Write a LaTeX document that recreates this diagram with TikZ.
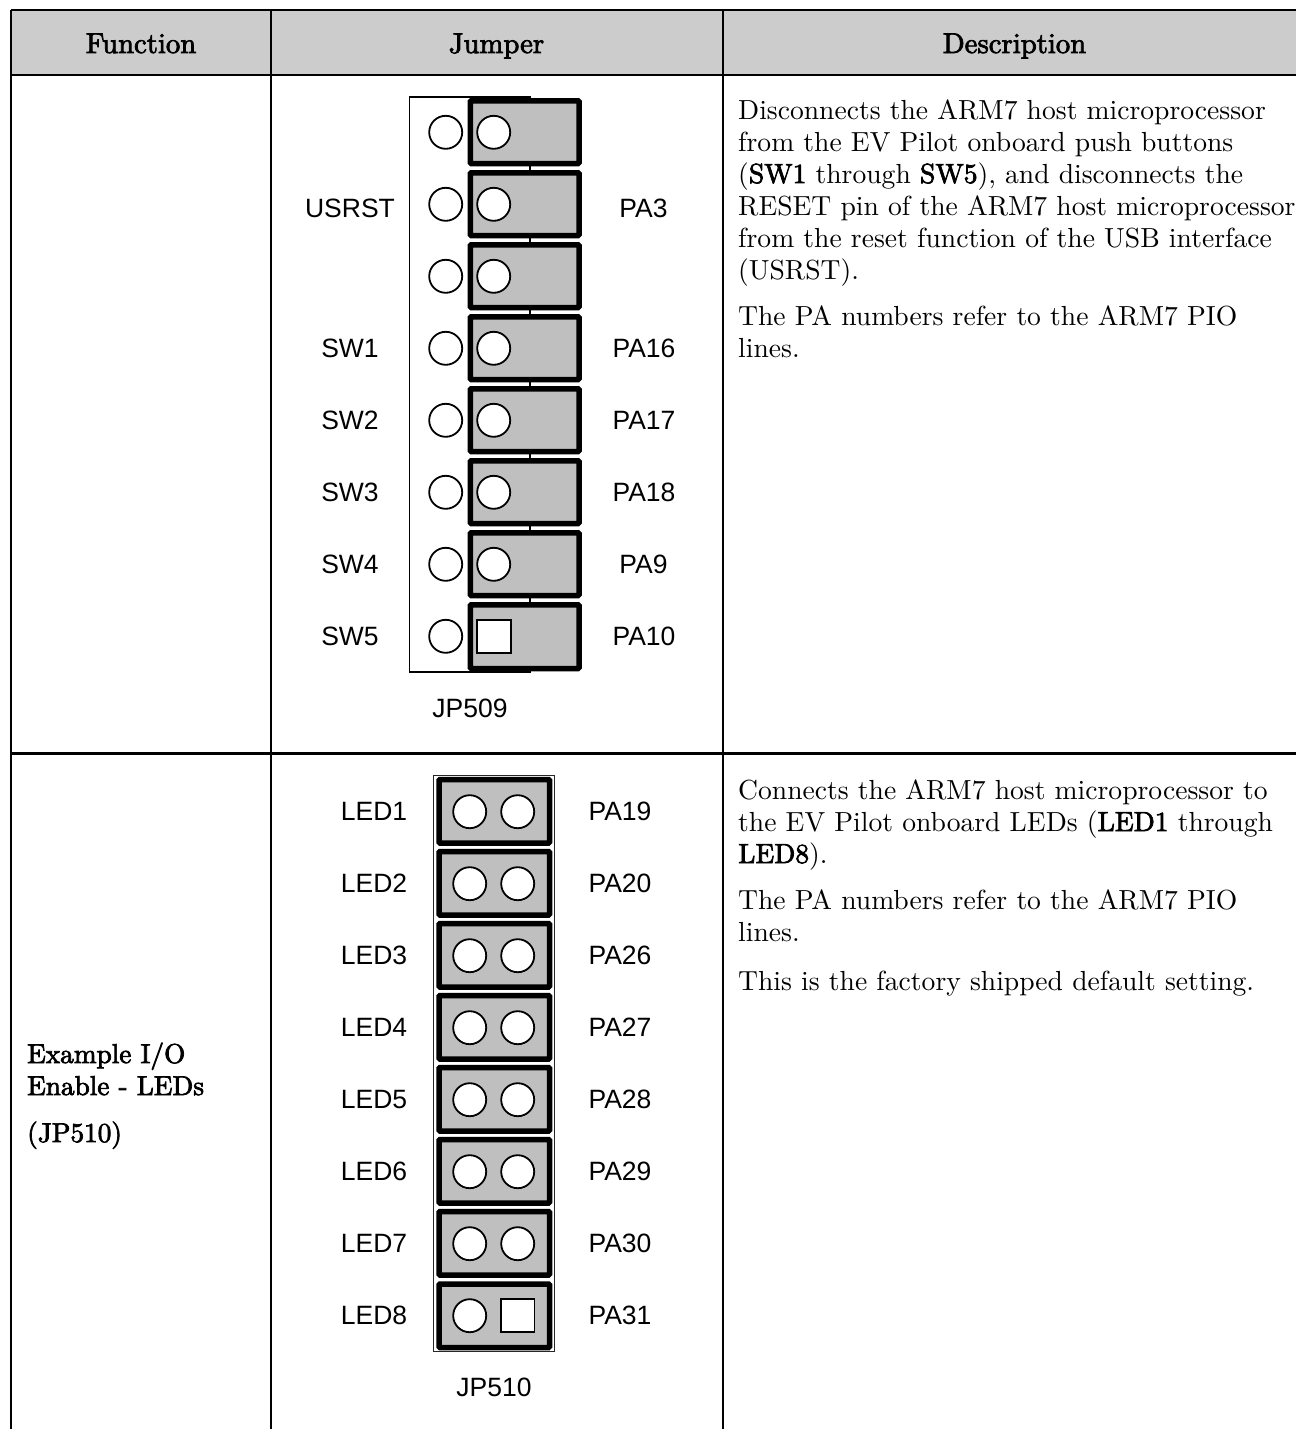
\documentclass[tikz,border=0pt]{standalone}
\usepackage{fontspec}
\setmainfont{Latin Modern Roman}[OpticalSize=10, BoldFont={Latin Modern Roman}, BoldFeatures={FakeBold=2.6}]
\newfontfamily\labelfont{Liberation Sans}
\def\jumperbox(#1,#2)(#3,#4){\draw[line width=5.5pt, rounded corners=1pt, fill=black!25] (#1, #2) rectangle (#3, #4);}
\def\jumperpin(#1,#2){\draw[pin] (#1, #2) circle (16.5);}
\def\jumpersq(#1,#2){\draw[pin] (#1-16.7, #2-16.5) rectangle (#1+16.7, #2+16.5);}
\tikzset{
	pin/.style={line width=1.8pt, fill=white},
	rule/.style={line width=2.2pt},
	partlabel/.style={font=\labelfont\fontsize{26.5}{32}\selectfont, inner sep=0pt},
	desc/.style={font=\fontsize{27.6}{32}\selectfont, anchor=base west, inner sep=0pt},
	funclabel/.style={font=\fontsize{27.3}{32}\selectfont\bfseries, anchor=base west, inner sep=0pt},
	headlabel/.style={font=\fontsize{28.7}{32}\selectfont\bfseries, anchor=base, inner sep=0pt}
}

\begin{document}
\begin{tikzpicture}[x=1pt, y=-1pt]
		%%%%% TABLE %%%%%
		\useasboundingbox (0, 0) rectangle (1296, 1429);
		\fill[black!20] (11, 10) rectangle (1296, 75);
		\draw[rule] (11, 10) -- (1296, 10);
		\draw[rule] (11, 75) -- (1296, 75);
		\draw[rule] (11, 753.5) -- (1296, 753.5);
		\draw[rule] (11, 10) -- (11, 1429);
		\draw[rule] (271, 10) -- (271, 1429);
		\draw[rule] (723, 10) -- (723, 1429);
		
		\node[headlabel] (headfunction) at (141, 53) {Function};
		\node[headlabel] (headjumper) at (496.5, 53) {Jumper};
		\node[headlabel] (headdescription) at (1014.5, 53) {Description};
		
		%%%%% JP509 %%%%%
		\draw[line width=1.3pt] (530, 97) -- (409.5, 97) -- (409.5, 672) -- (530, 672) -- cycle;
		
		\jumperbox(470.3,100.8)(579,163.5)
		\jumperbox(470.3,172.8)(579,235.5)
		\jumperbox(470.3,244.8)(579,307.5)
		\jumperbox(470.3,316.8)(579,379.5)
		\jumperbox(470.3,388.8)(579,451.5)
		\jumperbox(470.3,460.8)(579,523.5)
		\jumperbox(470.3,532.8)(579,595.5)
		\jumperbox(470.3,604.8)(579,668.5)
		
		\jumperpin(445.7,132.3) \jumperpin(493.7,132.3)
		\jumperpin(445.7,204.3) \jumperpin(493.7,204.3)
		\jumperpin(445.7,276.3) \jumperpin(493.7,276.3)
		\jumperpin(445.7,348.3) \jumperpin(493.7,348.3)
		\jumperpin(445.7,420.3) \jumperpin(493.7,420.3)
		\jumperpin(445.7,492.3) \jumperpin(493.7,492.3)
		\jumperpin(445.7,564.3) \jumperpin(493.7,564.3)
		\jumperpin(445.7,636.3) \jumpersq(494,636.3)
		
		\node[partlabel] (usrst) at (350, 208) {USRST};
		\node[partlabel] (swone) at (350, 348) {SW1};
		\node[partlabel] (swtwo) at (350, 420) {SW2};
		\node[partlabel] (swthree) at (350, 492) {SW3};
		\node[partlabel] (swfour) at (350, 564) {SW4};
		\node[partlabel] (swfive) at (350, 636) {SW5};
		\node[partlabel] (pathree) at (643.5, 208) {PA3};
		\node[partlabel] (pasixteen) at (644, 348) {PA16};
		\node[partlabel] (paseventeen) at (644, 420) {PA17};
		\node[partlabel] (paeighteen) at (644, 492) {PA18};
		\node[partlabel] (panine) at (643.5, 564) {PA9};
		\node[partlabel] (paten) at (644, 636) {PA10};
		\node[partlabel] (jpnine) at (470, 708) {JP509};
		
		\node[desc] (desca) at (738, 119) {Disconnects the ARM7 host microprocessor};
		\node[desc] (descb) at (738, 151) {from the EV Pilot onboard push buttons};
		\node[desc] (descc) at (738, 183) {(\textbf{SW1} through \textbf{SW5}), and disconnects the};
		\node[desc] (descd) at (738, 215) {RESET pin of the ARM7 host microprocessor};
		\node[desc] (desce) at (738, 247) {from the reset function of the USB interface};
		\node[desc] (descf) at (738, 279) {(USRST).};
		\node[desc] (descg) at (738, 325) {The PA numbers refer to the ARM7 PIO};
		\node[desc] (desch) at (738, 357) {lines.};
		
		%%%%% JP510 %%%%%
		\draw[line width=1.3pt, color=black!85] (433.3, 775.3) rectangle (554.3, 1351.7);
		
		\jumperbox(439,779.5)(549.5,843)
		\jumperbox(439,851.5)(549.5,915)
		\jumperbox(439,923.5)(549.5,987)
		\jumperbox(439,995.5)(549.5,1059)
		\jumperbox(439,1067.5)(549.5,1131)
		\jumperbox(439,1139.5)(549.5,1203)
		\jumperbox(439,1211.5)(549.5,1275)
		\jumperbox(439,1284)(549.5,1347.5)
		
		\jumperpin(469.7,811.7) \jumperpin(517.7,811.7)
		\jumperpin(469.7,883.7) \jumperpin(517.7,883.7)
		\jumperpin(469.7,955.7) \jumperpin(517.7,955.7)
		\jumperpin(469.7,1027.7) \jumperpin(517.7,1027.7)
		\jumperpin(469.7,1099.7) \jumperpin(517.7,1099.7)
		\jumperpin(469.7,1171.7) \jumperpin(517.7,1171.7)
		\jumperpin(469.7,1243.7) \jumperpin(517.7,1243.7)
		\jumperpin(469.7,1315.7) \jumpersq(517.8,1315.5)
		
		\node[partlabel] (ledone) at (374, 811) {LED1};
		\node[partlabel] (ledtwo) at (374, 883) {LED2};
		\node[partlabel] (ledthree) at (374, 955) {LED3};
		\node[partlabel] (ledfour) at (374, 1027) {LED4};
		\node[partlabel] (ledfive) at (374, 1099) {LED5};
		\node[partlabel] (ledsix) at (374, 1171) {LED6};
		\node[partlabel] (ledseven) at (374, 1243) {LED7};
		\node[partlabel] (ledeight) at (374, 1315) {LED8};
		\node[partlabel] (panineteen) at (620, 811) {PA19};
		\node[partlabel] (patwenty) at (620, 883) {PA20};
		\node[partlabel] (patwentysix) at (620, 955) {PA26};
		\node[partlabel] (patwentyseven) at (620, 1027) {PA27};
		\node[partlabel] (patwentyeight) at (620, 1099) {PA28};
		\node[partlabel] (patwentynine) at (620, 1171) {PA29};
		\node[partlabel] (pathirty) at (620, 1243) {PA30};
		\node[partlabel] (pathirtyone) at (620, 1315) {PA31};
		\node[partlabel] (jpten) at (494, 1387) {JP510};
		
		\node[funclabel] (funca) at (27, 1063) {Example I/O};
		\node[funclabel] (funcb) at (27, 1095) {Enable - LEDs};
		\node[funclabel] (funcc) at (27, 1142) {(JP510)};
		
		\node[desc] (ledesca) at (738, 799) {Connects the ARM7 host microprocessor to};
		\node[desc] (ledescb) at (738, 831) {the EV Pilot onboard LEDs (\textbf{LED1} through};
		\node[desc] (ledescc) at (738, 863) {\textbf{LED8}).};
		\node[desc] (ledescd) at (738, 909) {The PA numbers refer to the ARM7 PIO};
		\node[desc] (ledesce) at (738, 941) {lines.};
		\node[desc] (ledescf) at (738, 990) {This is the factory shipped default setting.};
		
		%%%%% END %%%%%
	\end{tikzpicture}
\end{document}
